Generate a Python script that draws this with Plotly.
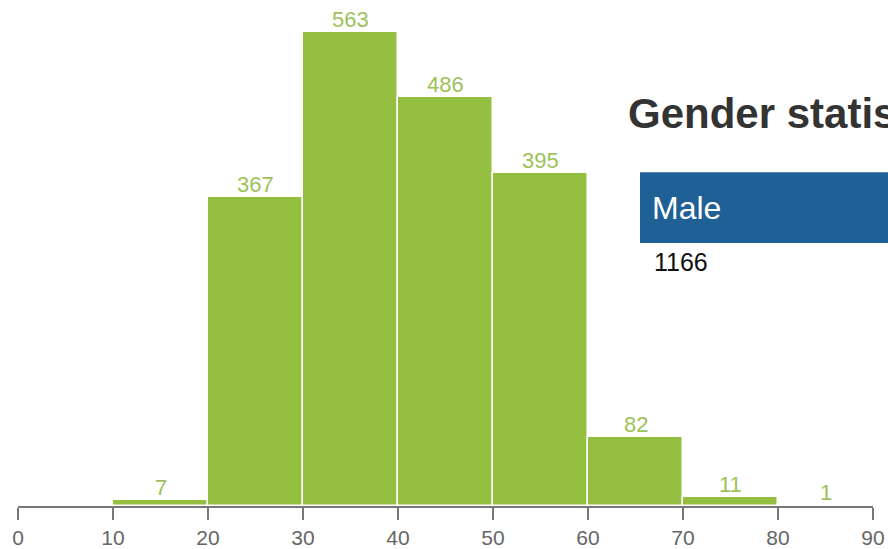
import plotly.graph_objects as go

bin_starts = [0, 10, 20, 30, 40, 50, 60, 70, 80]
counts = [0, 7, 367, 563, 486, 395, 82, 11, 1]
tick_vals = [0, 10, 20, 30, 40, 50, 60, 70, 80, 90]
stat_title = "Gender statistics"
stat_label = "Male"
stat_value = "1166"

BAR = "#95bf40"
LABEL = "#9cc25a"
FONT = "Liberation Sans"

centers = [s + 5 for s in bin_starts]
fig = go.Figure(go.Bar(x=centers, y=counts, width=10,
                       marker=dict(color=BAR, line=dict(color="white", width=1.5)),
                       hoverinfo="skip"))

for c, v in zip(centers, counts):
    if v > 0:
        fig.add_annotation(x=c, y=v, text=str(v), showarrow=False, yanchor="bottom",
                           yshift=-2, font=dict(size=22, color=LABEL, family=FONT))

W, H = 888, 549
L, R, T, B = 18, 15, 0, 41
pw, ph = W - L - R, H - T - B
def px(x): return (x - L) / pw
def py(y): return (H - B - y) / ph

fig.add_shape(type="rect", xref="paper", yref="paper", x0=px(640), x1=px(1000),
              y0=py(244), y1=py(173), fillcolor="#1f6096", line=dict(width=0), layer="above")
fig.add_annotation(xref="paper", yref="paper", x=px(626), y=py(114), text="<b>%s</b>" % stat_title,
                   showarrow=False, xanchor="left", yanchor="middle",
                   font=dict(size=42, color="#333333", family=FONT))
fig.add_annotation(xref="paper", yref="paper", x=px(650), y=py(209), text=stat_label,
                   showarrow=False, xanchor="left", yanchor="middle",
                   font=dict(size=32, color="white", family=FONT))
fig.add_annotation(xref="paper", yref="paper", x=px(652), y=py(263), text=stat_value,
                   showarrow=False, xanchor="left", yanchor="middle",
                   font=dict(size=25, color="#111111", family=FONT))

fig.update_layout(
    width=W, height=H, margin=dict(l=L, r=R, t=T, b=B),
    plot_bgcolor="white", paper_bgcolor="white", bargap=0, showlegend=False,
    xaxis=dict(range=[0, 90], tickvals=tick_vals, showgrid=False, zeroline=False,
               showline=True, linecolor="#777777", linewidth=2,
               ticks="outside", ticklen=12, tickwidth=2, tickcolor="#777777",
               tickfont=dict(size=21, color="#666666", family=FONT)),
    yaxis=dict(range=[0, 601], visible=False, showgrid=False, zeroline=False),
)
fig.write_html("out.html", config={"displayModeBar": False},
               post_script="document.body.style.margin='0';document.body.style.overflow='hidden';")
